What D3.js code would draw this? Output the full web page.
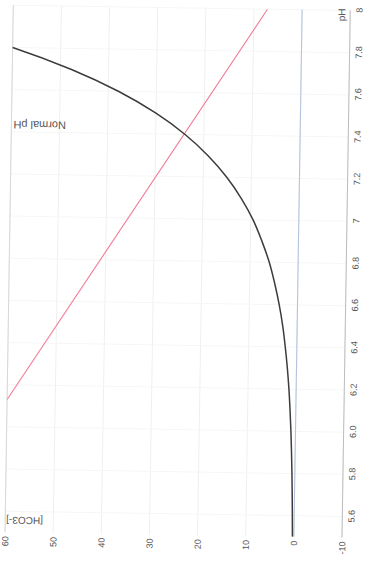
<!DOCTYPE html>
<html>
<head>
<meta charset="utf-8">
<script src="https://cdn.jsdelivr.net/npm/d3@7"></script>
<style>
  html, body { margin: 0; padding: 0; background: #fff; }
  svg { display: block; }
  text { font-family: "Liberation Sans", Arial, sans-serif; fill: #555; }
</style>
</head>
<body>
<script>
// ---- data ----
const phValues = [5.5, 5.6, 5.7, 5.8, 5.9, 6.0, 6.1, 6.2, 6.3, 6.4, 6.5, 6.6, 6.7, 6.8, 6.9, 7.0, 7.1, 7.2, 7.3, 7.4, 7.5, 7.6, 7.7, 7.8, 7.82];
const hco3Curve = [0.30, 0.38, 0.48, 0.60, 0.76, 0.95, 1.2, 1.5, 1.9, 2.4, 3.0, 3.8, 4.8, 6.0, 7.6, 9.5, 12.0, 15.1, 19.0, 23.9, 30.1, 37.9, 47.7, 60.0, 62.8];
const bufferPH = [6.13, 8.0];
const bufferHCO3 = [60, 7.2];
const zeroLine = 0;
const normalPH = 7.4;
const phTicks = [5.6, 5.8, 6.0, 6.2, 6.4, 6.6, 6.8, 7.0, 7.2, 7.4, 7.6, 7.8, 8.0];
const phTickLabels = ["5.6", "5.8", "6.0", "6.2", "6.4", "6.6", "6.8", "7", "7.2", "7.4", "7.6", "7.8", "8"];
const yTicks = [-10, 0, 10, 20, 30, 40, 50, 60];
const yTickLabels = ["-10", "0", "10", "20", "30", "40", "50", "60"];
const xTitle = "pH";
const yTitle = "[HCO3-]";
const normalLabel = "Normal pH";

// ---- layout (chart drawn in its own frame, then turned on the page) ----
const W = 366, H = 561;
const svg = d3.select("body").append("svg").attr("width", W).attr("height", H);
const g = svg.append("g")
  .attr("transform", "rotate(0.9,183,280) translate(0," + H + ") rotate(-90)");

const x = d3.scaleLinear().domain([5.5, 8]).range([26, 553]);
const y = d3.scaleLinear().domain([-10, 60]).range([346, 9]);

g.append("clipPath").attr("id", "plot")
  .append("rect").attr("x", x(5.5)).attr("y", y(60))
  .attr("width", x(8) - x(5.5)).attr("height", y(-10) - y(60));

// grid
g.append("g").selectAll("line").data(yTicks).join("line")
  .attr("x1", x(5.5)).attr("x2", x(8))
  .attr("y1", d => y(d)).attr("y2", d => y(d))
  .attr("stroke", "#efefef").attr("stroke-width", 1);
g.append("g").selectAll("line").data(phTicks).join("line")
  .attr("x1", d => x(d)).attr("x2", d => x(d))
  .attr("y1", y(60)).attr("y2", y(-10))
  .attr("stroke", "#f6f6f6").attr("stroke-width", 1);

// top border (y = 60)
g.append("line").attr("x1", x(5.5)).attr("x2", x(8))
  .attr("y1", y(60)).attr("y2", y(60)).attr("stroke", "#d8d8d8");

// axis line at bottom of the frame
g.append("line").attr("x1", x(5.5)).attr("x2", x(8))
  .attr("y1", y(-10)).attr("y2", y(-10)).attr("stroke", "#bdbdbd");

// zero line
g.append("line").attr("x1", x(5.5)).attr("x2", x(8))
  .attr("y1", y(zeroLine)).attr("y2", y(zeroLine))
  .attr("stroke", "#b5c4de").attr("stroke-width", 1.1);

// axes
const xAxis = g.append("g").attr("transform", "translate(0," + y(-10) + ")")
  .call(d3.axisBottom(x).tickValues(phTicks).tickFormat((d, i) => phTickLabels[i]).tickSize(0).tickPadding(6));
const yAxis = g.append("g").attr("transform", "translate(" + x(5.5) + ",0)")
  .call(d3.axisLeft(y).tickValues(yTicks).tickFormat((d, i) => yTickLabels[i]).tickSize(0).tickPadding(4));
[xAxis, yAxis].forEach(a => {
  a.select(".domain").remove();
  a.selectAll("text").attr("font-size", 9).attr("fill", "#555")
    .attr("font-family", "Liberation Sans, Arial, sans-serif");
});

// series
const plot = g.append("g").attr("clip-path", "url(#plot)");
const line = d3.line().x(d => x(d[0])).y(d => y(d[1])).curve(d3.curveMonotoneX);
plot.append("path")
  .datum(bufferPH.map((p, i) => [p, bufferHCO3[i]]))
  .attr("d", d3.line().x(d => x(d[0])).y(d => y(d[1])))
  .attr("fill", "none").attr("stroke", "#f27b95").attr("stroke-width", 1.1);
plot.append("path")
  .datum(phValues.map((p, i) => [p, hco3Curve[i]]))
  .attr("d", line)
  .attr("fill", "none").attr("stroke", "#3c3c3c").attr("stroke-width", 1.5);

// titles
g.append("text").attr("x", 555).attr("y", 341)
  .attr("text-anchor", "end").attr("font-size", 10).text(xTitle);
g.append("text").attr("transform", "translate(41.5," + (y(60) + 1) + ") rotate(-90)")
  .attr("text-anchor", "end").attr("font-size", 10).text(yTitle);
g.append("text").attr("transform", "translate(" + (x(normalPH) + 11) + "," + (y(60) + 2) + ") rotate(-90)")
  .attr("text-anchor", "end").attr("font-size", 11).text(normalLabel);
</script>
</body>
</html>
